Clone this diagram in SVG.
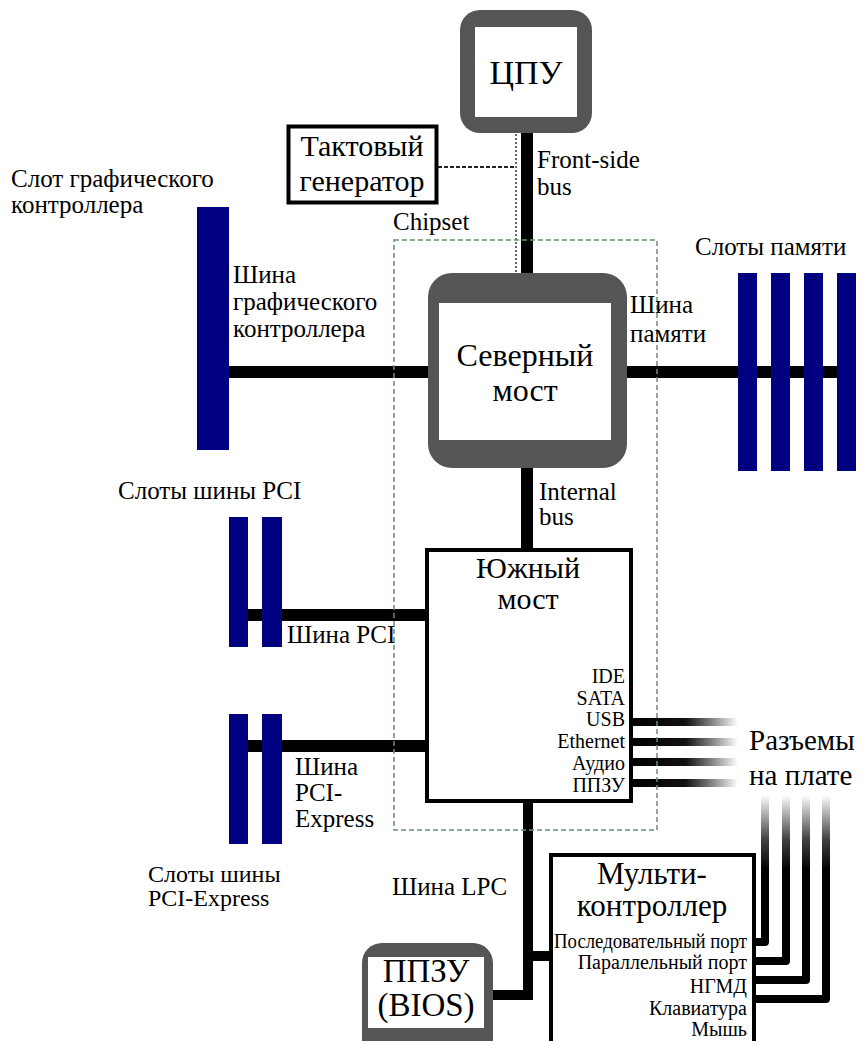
<svg xmlns="http://www.w3.org/2000/svg" width="868" height="1041" viewBox="0 0 868 1041" font-family="'Liberation Serif', 'Times New Roman', serif">
<defs>
<style>
text{font-family:'Liberation Serif','Times New Roman',serif;fill:#000}
.lbl{font-size:25px}
.port{font-size:20px;text-anchor:end}
.big{text-anchor:middle}
.bus{stroke:#000;stroke-width:12;fill:none}
.slot{fill:#000080}
.chip{fill:#555555}
.inner{fill:#fff}
.box{fill:#fff;stroke:#000;stroke-width:4}
</style>
<linearGradient id="fadeH" gradientUnits="userSpaceOnUse" x1="633" y1="0" x2="738" y2="0">
<stop offset="0" stop-color="#000"/>
<stop offset="0.5" stop-color="#111"/>
<stop offset="1" stop-color="#000" stop-opacity="0"/>
</linearGradient>
<linearGradient id="fadeV" gradientUnits="userSpaceOnUse" x1="0" y1="795" x2="0" y2="870">
<stop offset="0" stop-color="#000" stop-opacity="0"/>
<stop offset="0.6" stop-color="#000" stop-opacity="0.75"/>
<stop offset="1" stop-color="#000"/>
</linearGradient>
</defs>

<g id="connectors">
<line class="bus" x1="527" y1="130" x2="527" y2="276"/>
<line x1="516" y1="134" x2="516" y2="274" stroke="#333" stroke-width="1.5" stroke-dasharray="2,2"/>
<line x1="438" y1="167" x2="516" y2="167" stroke="#222" stroke-width="2" stroke-dasharray="4,2"/>
<line class="bus" x1="229" y1="372" x2="430" y2="372"/>
<line class="bus" x1="625" y1="372" x2="845" y2="372"/>
<line class="bus" x1="527" y1="465" x2="527" y2="550"/>
<line class="bus" x1="245" y1="615" x2="427" y2="615"/>
<line class="bus" x1="245" y1="746" x2="427" y2="746"/>
<polyline points="528,800 528,995 490,995" stroke="#000" stroke-width="10" fill="none"/>
<line x1="528" y1="956" x2="551" y2="956" stroke="#000" stroke-width="10"/>
<g stroke="url(#fadeH)" stroke-width="8">
<line x1="633" y1="722" x2="738" y2="722"/>
<line x1="633" y1="742" x2="738" y2="742"/>
<line x1="633" y1="762" x2="738" y2="762"/>
<line x1="633" y1="783" x2="738" y2="783"/>
</g>
<g fill="none" stroke="#000" stroke-width="8" stroke-linejoin="round">
<polyline points="756,942 765,942 765,868"/>
<polyline points="756,961 786,961 786,868"/>
<polyline points="756,980 806,980 806,868"/>
<polyline points="756,999 826,999 826,868"/>
</g>
<g stroke="url(#fadeV)" stroke-width="8">
<line x1="765" y1="795" x2="765" y2="870"/>
<line x1="786" y1="795" x2="786" y2="870"/>
<line x1="806" y1="795" x2="806" y2="870"/>
<line x1="826" y1="795" x2="826" y2="870"/>
</g>
</g>

<g id="cpu">
<rect class="chip" x="460" y="10" width="132" height="123" rx="20"/>
<rect class="inner" x="475" y="27" width="102" height="90"/>
<text class="big" x="526" y="84" font-size="34">ЦПУ</text>
</g>

<g id="clock">
<rect class="box" x="288.5" y="126.5" width="148" height="76" stroke-width="3"/>
<text class="big" x="362" y="156" font-size="30">Тактовый</text>
<text class="big" x="362" y="191" font-size="30">генератор</text>
</g>

<g id="northbridge">
<rect class="chip" x="428" y="273" width="199" height="195" rx="24"/>
<rect class="inner" x="439" y="303" width="172" height="137"/>
<text class="big" x="525" y="366" font-size="32">Северный</text>
<text class="big" x="525" y="401" font-size="32">мост</text>
</g>

<g id="southbridge">
<rect class="box" x="427" y="550" width="204" height="251"/>
<text class="big" x="528" y="578" font-size="30">Южный</text>
<text class="big" x="528" y="609" font-size="30">мост</text>
<text class="port" x="625" y="683">IDE</text>
<text class="port" x="625" y="705">SATA</text>
<text class="port" x="625" y="726">USB</text>
<text class="port" x="625" y="748">Ethernet</text>
<text class="port" x="625" y="770">Аудио</text>
<text class="port" x="625" y="792">ППЗУ</text>
</g>

<g id="multicontroller">
<rect class="box" x="551" y="855" width="203" height="190"/>
<text class="big" x="652" y="884" font-size="31">Мульти-</text>
<text class="big" x="652" y="916" font-size="31">контроллер</text>
<text class="port" x="747" y="948" textLength="193" lengthAdjust="spacingAndGlyphs">Последовательный порт</text>
<text class="port" x="747" y="969">Параллельный порт</text>
<text class="port" x="747" y="993">НГМД</text>
<text class="port" x="747" y="1015">Клавиатура</text>
<text class="port" x="747" y="1036">Мышь</text>
</g>

<g id="bios">
<rect class="chip" x="362" y="943" width="131" height="120" rx="20"/>
<rect class="inner" x="368" y="957" width="116" height="71"/>
<text class="big" x="426" y="982" font-size="33">ППЗУ</text>
<text class="big" x="426" y="1016" font-size="33">(BIOS)</text>
</g>

<g id="graphics-slot">
<rect class="slot" x="197" y="207" width="32" height="243"/>
<text class="lbl" x="11" y="187">Слот графического</text>
<text class="lbl" x="11" y="213">контроллера</text>
</g>

<g id="memory-slots">
<rect class="slot" x="738" y="273" width="19" height="198"/>
<rect class="slot" x="771" y="273" width="19" height="198"/>
<rect class="slot" x="804" y="273" width="19" height="198"/>
<rect class="slot" x="837" y="273" width="19" height="198"/>
<text class="lbl" x="695" y="255">Слоты памяти</text>
</g>

<g id="pci-slots">
<rect class="slot" x="229" y="517" width="19" height="130"/>
<rect class="slot" x="262" y="517" width="20" height="130"/>
<text class="lbl" x="118" y="499">Слоты шины PCI</text>
</g>

<g id="pcie-slots">
<rect class="slot" x="229" y="714" width="19" height="130"/>
<rect class="slot" x="262" y="714" width="20" height="130"/>
<text class="lbl" x="148" y="882" style="font-size:24px">Слоты шины</text>
<text class="lbl" x="148" y="906" style="font-size:24px">PCI-Express</text>
</g>

<g id="chipset">
<rect x="394" y="240" width="263" height="590" fill="none" stroke="#6b8e6b" stroke-width="1.5" stroke-dasharray="5,3"/>
<text class="lbl" x="393" y="230">Chipset</text>
</g>

<g id="labels">
<text class="lbl" x="537" y="168">Front-side</text>
<text class="lbl" x="537" y="195">bus</text>
<text class="lbl" x="233" y="283">Шина</text>
<text class="lbl" x="233" y="310">графического</text>
<text class="lbl" x="233" y="337">контроллера</text>
<text class="lbl" x="630" y="313">Шина</text>
<text class="lbl" x="630" y="342">памяти</text>
<text class="lbl" x="539" y="500">Internal</text>
<text class="lbl" x="539" y="525">bus</text>
<text class="lbl" x="287" y="643">Шина PCI</text>
<text class="lbl" x="295" y="775">Шина</text>
<text class="lbl" x="295" y="801">PCI-</text>
<text class="lbl" x="295" y="827">Express</text>
<text class="lbl" x="392" y="895">Шина LPC</text>
<text x="749" y="750" font-size="29">Разъемы</text>
<text x="749" y="785" font-size="29">на плате</text>
</g>
</svg>
